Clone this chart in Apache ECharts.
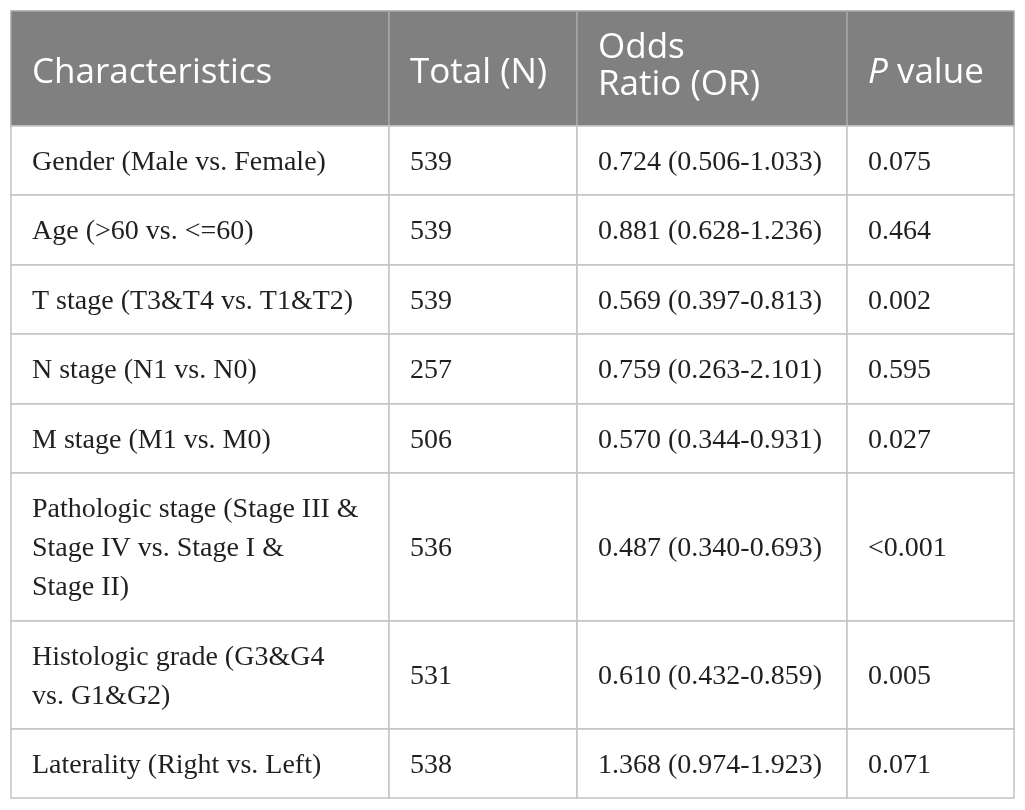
<!DOCTYPE html>
<html><head><meta charset="utf-8">
<script src="https://cdn.jsdelivr.net/npm/echarts@6/dist/echarts.min.js"></script>
<style>html,body{margin:0;padding:0;background:#fff}#chart{width:1025px;height:810px}</style>
</head><body><div id="chart"></div>
<script>
// ---- table content ----
const headers = ['Characteristics', 'Total (N)', 'Odds\nRatio (OR)', '{i|P} value'];
const characteristics = [
  'Gender (Male vs. Female)',
  'Age (>60 vs. <=60)',
  'T stage (T3&T4 vs. T1&T2)',
  'N stage (N1 vs. N0)',
  'M stage (M1 vs. M0)',
  'Pathologic stage (Stage III &\nStage IV vs. Stage I &\nStage II)',
  'Histologic grade (G3&G4\nvs. G1&G2)',
  'Laterality (Right vs. Left)'
];
const totals = [539, 539, 539, 257, 506, 536, 531, 538];
const oddsRatios = [
  '0.724 (0.506-1.033)',
  '0.881 (0.628-1.236)',
  '0.569 (0.397-0.813)',
  '0.759 (0.263-2.101)',
  '0.570 (0.344-0.931)',
  '0.487 (0.340-0.693)',
  '0.610 (0.432-0.859)',
  '1.368 (0.974-1.923)'
];
const pValues = ['0.075', '0.464', '0.002', '0.595', '0.027', '<0.001', '0.005', '0.071'];

// ---- layout (table grid edges) ----
const colEdges = [11, 389, 577, 847, 1014];
const rowEdges = [11, 126, 195, 265, 334, 404, 473, 621, 729, 798];

const cells = [];
headers.forEach((h, c) => cells.push({ c: c, r: 0, text: h, header: true }));
characteristics.forEach((ch, i) => {
  const row = [ch, String(totals[i]), oddsRatios[i], pValues[i]];
  row.forEach((t, c) => cells.push({ c: c, r: i + 1, text: t, header: false }));
});

const chart = echarts.init(document.getElementById('chart'));
chart.setOption({
  animation: false,
  grid: { left: 0, right: 0, top: 0, bottom: 0 },
  xAxis: { type: 'value', min: 0, max: 1025, show: false },
  yAxis: { type: 'value', min: 0, max: 810, inverse: true, show: false },
  series: [{
    type: 'custom',
    clip: false,
    encode: { x: 0, y: 1 },
    data: cells.map(d => [d.c, d.r]),
    renderItem: function (params, api) {
      const d = cells[params.dataIndex];
      const p0 = api.coord([colEdges[d.c], rowEdges[d.r]]);
      const p1 = api.coord([colEdges[d.c + 1], rowEdges[d.r + 1]]);
      const hdr = d.header;
      const multi = d.text.indexOf('\n') >= 0;
      const dy = hdr ? (multi ? -2 : 5) : 2;
      return {
        type: 'group',
        z2: hdr ? 10 : 1,
        children: [{
          type: 'rect',
          shape: { x: p0[0], y: p0[1], width: p1[0] - p0[0], height: p1[1] - p0[1] },
          style: { fill: hdr ? '#808080' : '#ffffff', stroke: hdr ? '#a6a6a6' : '#c3c3c3', lineWidth: 1.5 }
        }, {
          type: 'text',
          x: p0[0] + 21,
          y: (p0[1] + p1[1]) / 2 + dy,
          style: hdr ? {
            text: d.text, fill: '#ffffff', fontFamily: 'Open Sans', fontSize: 35,
            lineHeight: 37, align: 'left', verticalAlign: 'middle',
            rich: { i: { fontStyle: 'italic', fontFamily: 'Open Sans', fontSize: 35, fill: '#ffffff', lineHeight: 37 } }
          } : {
            text: d.text, fill: '#231f20', fontFamily: 'Liberation Serif', fontSize: 28,
            lineHeight: 39, align: 'left', verticalAlign: 'middle'
          }
        }]
      };
    }
  }]
});
</script>
</body></html>
